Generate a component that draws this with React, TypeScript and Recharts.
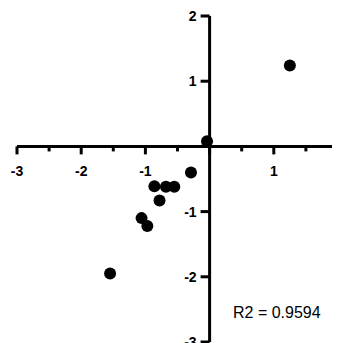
import React from "react";
import {
    ScatterChart,
    Scatter,
    XAxis,
    YAxis,
    ReferenceLine,
} from "recharts";

const xValues = [1.25, -0.04, -0.29, -0.86, -0.68, -0.55, -0.78, -1.06, -0.97, -1.55];
const yValues = [1.24, 0.08, -0.4, -0.61, -0.62, -0.62, -0.83, -1.1, -1.22, -1.95];

const xTicks = [-3, -2.5, -2, -1.5, -1, -0.5, 0, 0.5, 1, 1.5, 2];
const yTicks = [-3, -2, -1, 0, 1, 2];
const fitLabel = "R2 = 0.9594";

const points = xValues.map((x, i) => ({ x, y: yValues[i] }));

const W = 332;
const H = 335;
// axis bands are 1px (a 0px axis is not drawn at all)
const margin = { top: 8, right: 2, bottom: 0, left: 8 };
const plotW = W - margin.left - 1 - margin.right;
const plotH = H - margin.top - margin.bottom - 1;

// axes cross at zero: shift the tick layers from the plot edge to the zero line
const xShift = plotH * (0 - -3) / (2 - -3); // bottom edge up to y=0
const yShift = plotW * (0 - -3) / (2 - -3); // left edge over to x=0

const font = "'Liberation Sans', Arial, sans-serif";

const XTick = (props: any) => {
    const { x, y, payload } = props;
    const v = payload.value;
    const major = Number.isInteger(v);
    const y0 = y - xShift;
    return (
        <g>
            <line x1={x} x2={x} y1={y0} y2={y0 + (major ? 8 : 5)} stroke="#000" strokeWidth={3} />
            {major && v !== 0 && (
                <text x={x} y={y0 + 30} textAnchor="middle" fontFamily={font} fontWeight="bold" fontSize={14} fill="#000">
                    {v}
                </text>
            )}
        </g>
    );
};

const YTick = (props: any) => {
    const { x, y, payload } = props;
    const v = payload.value;
    const x0 = x + yShift;
    return (
        <g>
            <line x1={x0 - 9} x2={x0} y1={y} y2={y} stroke="#000" strokeWidth={3} />
            {v !== 0 && (
                <text x={x0 - 13} y={y + 5} textAnchor="end" fontFamily={font} fontWeight="bold" fontSize={14} fill="#000">
                    {v}
                </text>
            )}
        </g>
    );
};

export default function App() {
    return (
        <div style={{ width: W, height: H, position: "relative" }}>
            <ScatterChart width={W} height={H} margin={margin}>
                <XAxis
                    type="number"
                    dataKey="x"
                    domain={[-3, 2]}
                    ticks={xTicks}
                    interval={0}
                    height={1}
                    axisLine={false}
                    tickLine={false}
                    tickSize={0}
                    tickMargin={0}
                    tick={<XTick />}
                />
                <YAxis
                    type="number"
                    dataKey="y"
                    domain={[-3, 2]}
                    ticks={yTicks}
                    interval={0}
                    width={1}
                    axisLine={false}
                    tickLine={false}
                    tickSize={0}
                    tickMargin={0}
                    tick={<YTick />}
                />
                <ReferenceLine x={0} stroke="#000" strokeWidth={3} />
                <ReferenceLine y={0} stroke="#000" strokeWidth={3} />
                <Scatter
                    data={points}
                    fill="#000"
                    isAnimationActive={false}
                    shape={(p: any) => <circle cx={p.cx} cy={p.cy} r={6} fill="#000" />}
                />
            </ScatterChart>
            <div style={{ position: "absolute", left: 225, top: 296, fontFamily: font, fontSize: 16, color: "#000", whiteSpace: "nowrap" }}>
                {fitLabel}
            </div>
        </div>
    );
}
